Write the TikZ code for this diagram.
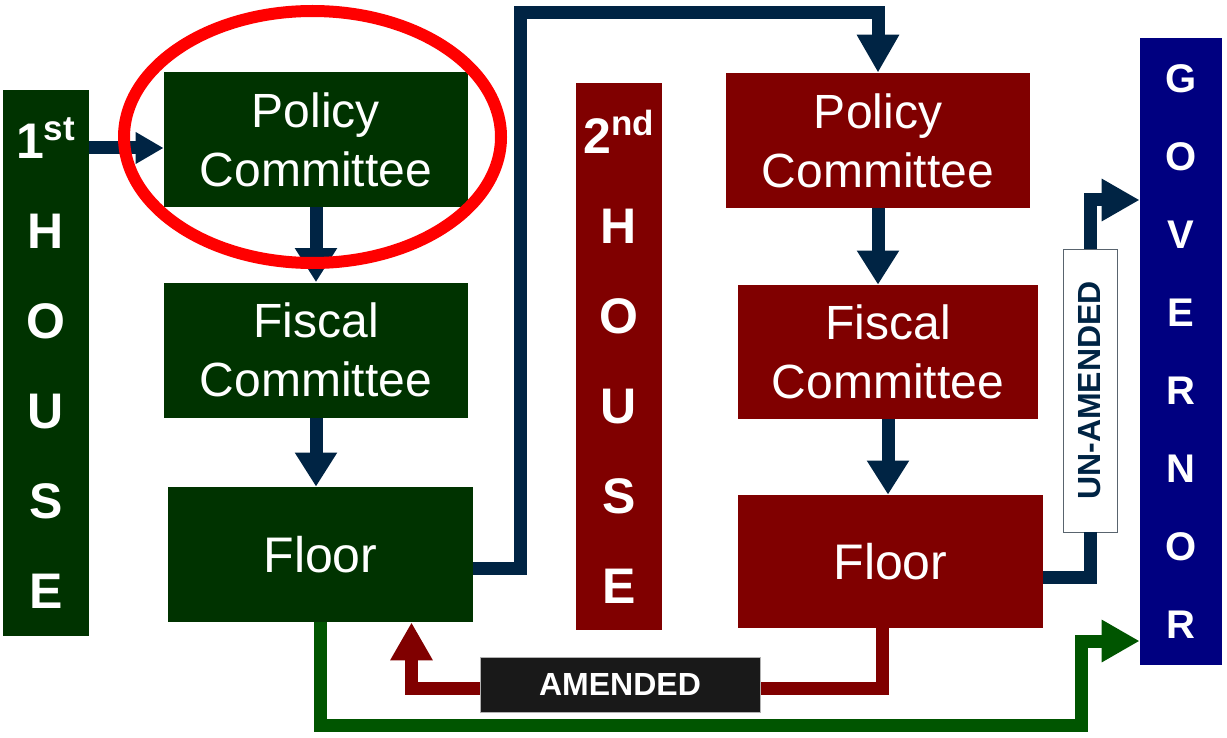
\documentclass[tikz,border=0pt]{standalone}
\usepackage{fontspec}
\setmainfont{Liberation Sans}
\usepackage{xcolor}
\usetikzlibrary{arrows.meta}

\definecolor{housegreen}{RGB}{0,51,0}
\definecolor{housered}{RGB}{128,0,0}
\definecolor{govblue}{RGB}{0,0,128}
\definecolor{arrownavy}{RGB}{0,36,68}
\definecolor{arrowgreen}{RGB}{0,85,0}
\definecolor{arrowred}{RGB}{128,0,0}

\begin{document}
\begin{tikzpicture}[x=0.5pt, y=-0.5pt,
  housebar/.style={fill=#1, text=white, inner sep=0pt, minimum width=43pt, align=center, font=\fontsize{25}{45}\selectfont\bfseries},
  committee/.style={fill=#1, text=white, inner sep=0pt, minimum width=152pt, minimum height=67.5pt, align=center, font=\fontsize{24}{29.5}\selectfont},
  flow/.style={draw=#1, line width=6.5pt, line cap=butt, miter limit=10},
  bigtip/.style={-{Triangle[width=20pt, length=19pt]}},
  midtip/.style={-{Triangle[width=20pt, length=17pt]}},
  smalltip/.style={-{Triangle[width=15pt, length=14pt]}}]
\useasboundingbox (0,0) rectangle (1227,738);

% first house
\node[housebar=housegreen, minimum height=273pt] (house1) at (46,363) {1\textsuperscript{st}\\H\\O\\U\\S\\E};
\node[committee=housegreen] (pol1) at (316,139.5) {Policy\\Committee};
\node[committee=housegreen] (fis1) at (316,350) {Fiscal\\Committee};
\node[committee=housegreen, minimum width=152.5pt, font=\fontsize{25}{30}\selectfont] (flo1) at (320.5,554.5) {Floor};

% second house
\node[housebar=housered, minimum height=273.5pt] (house2) at (619,356.5) {2\textsuperscript{nd}\\H\\O\\U\\S\\E};
\node[committee=housered] (pol2) at (878,140.5) {Policy\\Committee};
\node[committee=housered, minimum width=150pt, minimum height=67pt] (fis2) at (888,352) {Fiscal\\Committee};
\node[committee=housered, minimum width=152.5pt, minimum height=66.5pt, font=\fontsize{25}{30}\selectfont] (flo2) at (890.5,561.5) {Floor};

% governor
\node[housebar=govblue, minimum width=41pt, minimum height=313.5pt, font=\fontsize{20}{39}\selectfont\bfseries] (gov) at (1181,351.5) {G\\O\\V\\E\\R\\N\\O\\R};

% arrows inside each house
\draw[flow=arrownavy, smalltip] (house1.east |- 0,148) -- ([yshift=-4.25pt]pol1.west);
\draw[flow=arrownavy, midtip] (pol1.south) -- (fis1.north);
\draw[flow=arrownavy, midtip] (fis1.south) -- (fis1.south |- flo1.north);
\draw[flow=arrownavy, midtip] (pol2.south) -- (pol2.south |- fis2.north);
\draw[flow=arrownavy, midtip] (fis2.south) -- (fis2.south |- flo2.north);

% first house to second house
\coordinate (over) at (520,13);
\draw[flow=arrownavy, bigtip] ([yshift=-6.75pt]flo1.east) -| (over) -| (pol2.north);

% amended: back to the first house
\coordinate (back) at (411.5,688.5);
\draw[flow=arrowred, bigtip] ([xshift=-4.25pt]flo2.south) |- (back) -- (back |- flo1.south);
\node[fill=black!90, draw=gray!60, thin, text=white, inner sep=0pt, minimum width=140pt, minimum height=27.5pt, font=\fontsize{16}{18}\selectfont\bfseries] (amend) at (620,684.5) {AMENDED};

% un-amended: on to the governor
\node[draw=gray!70!arrownavy, thin, fill=white, inner sep=0pt, minimum width=27pt, minimum height=141.5pt] (unam) at (1090,390.5) {};
\node[rotate=90, text=arrownavy, font=\fontsize{16}{18}\selectfont\bfseries] at (unam.center) {UN-AMENDED};
\draw[flow=arrownavy] ([yshift=-7.75pt]flo2.east) -| (unam.south);
\draw[flow=arrownavy, bigtip] (unam.north) |- ([yshift=75.75pt]gov.west);

% agreed: first house floor to the governor
\coordinate (low) at (1081.5,725);
\draw[flow=arrowgreen, bigtip] (flo1.south) |- (low) |- ([yshift=-144.75pt]gov.west);

% highlight
\draw[red, line width=6pt] (312.5,137) ellipse [x radius=94.25pt, y radius=63pt];
\end{tikzpicture}
\end{document}
